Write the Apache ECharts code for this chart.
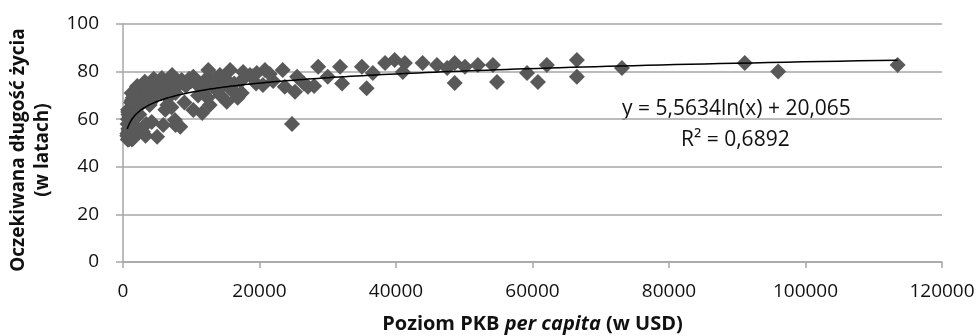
<!DOCTYPE html>
<html>
<head>
<meta charset="utf-8">
<script src="https://cdn.jsdelivr.net/npm/echarts@6/dist/echarts.min.js"></script>
<style>
html,body{margin:0;padding:0;background:#fff;}
#c{width:980px;height:336px;}
</style>
</head>
<body>
<div id="c"></div>
<script>
// GDP per capita (USD)
const gdp = [
 620,650,700,680,720,760,740,800,780,850,900,820,800,870,900,1300,980,910,950,1000,
 930,1050,1100,1020,1300,1150,880,1600,1250,1180,1450,1250,1400,1330,1350,1500,1500,1900,1550,1800,
 1700,1550,1800,2900,1700,1600,2000,2050,1800,2300,2100,2400,1900,2600,2100,2900,2900,3500,3400,2000,
 3200,3300,3300,3900,4000,3600,4100,3800,4200,3300,3700,4100,2700,3500,3800,3900,3900,1300,4800,4800,
 4500,4500,5200,5000,4900,5700,6600,5600,5800,6200,4800,4900,5600,6000,6800,6400,8000,7700,7100,5600,
 7100,7200,7700,8400,10300,9200,7300,7600,8600,9700,10300,10100,10700,10000,10900,11600,11900,13000,12400,14300,
 15700,15000,14300,14500,12500,13500,12900,17300,17600,19000,12000,17300,16300,13000,14200,12300,4200,5900,7600,11600,
 12700,15200,16800,17400,19600,20800,18600,20500,23400,23700,25500,25200,27100,28600,30000,24760,31800,32100,35000,35700,
 36600,38400,39800,41300,41000,43900,46000,47500,48600,48600,50100,52000,54200,54800,59200,60800,62100,66500,66500,73100,
 91100,96000,113500,
 22000,21500,26500,28000,19500,16000,13800,9000,11000,6500
];
// Life expectancy (years)
const lifeExp = [
 53,54,51.5,58,60,63,64,58,56,51.5,52,55,62,56,58,68,60,63,56,54,
 61,62,61,59,51.5,55,54,70,61,67,69,71,65,63,61,52,54,61,52.5,57,
 68,66,62,54.7,66,63,68,73.6,66,69,67,62,61,73,74,67,69,71,58,68,
 75.7,71,74,70,67,72,72,74,71,53,74,72,68,71,74,66,73,67,70,72,
 77,75,74,52.6,74,77.3,69,71,74,64,76,75,73,73,75,75,74,71,74,75,
 65,78.6,57.6,56.8,63.9,74,75,74,76.5,77,77.8,77,75,76,75,74,76,74,69,70,
 80.7,77,74,74,80.7,77,75,76,79.8,78,73,71,75,76,78.6,75,58.8,57.6,59.7,62.6,
 66,67.3,69,71,79.4,80.7,78.6,74.4,80.7,73.6,77.8,71.5,73.6,82,77.8,58,82,75,82,73,
 79.4,83.6,84.9,83.6,79.8,83.6,82.8,81.5,83.6,75.2,82,82.8,82.8,75.6,79.4,75.6,82.8,84.9,77.8,81.5,
 83.6,80,82.8,
 76,79,75,74,75,72,72,67,70,66
];
// Logarithmic trend line coefficients as printed on the chart
const trendA = 5.5634;
const trendB = 20.065;
const eqLabel = 'y = 5,5634ln(x) + 20,065';
const r2Label = 'R² = 0,6892';
const yTitle = 'Oczekiwana długość życia\n(w latach)';
const xTicks = [0,20000,40000,60000,80000,100000,120000];
const yTicks = [0,20,40,60,80,100];

const points = gdp.map((g,i)=>[g, lifeExp[i]]);
const xmin = Math.min(...gdp), xmax = Math.max(...gdp);
const trend = [];
for (let i=0;i<=200;i++){
  const x = Math.exp(Math.log(xmin) + (Math.log(xmax)-Math.log(xmin))*i/200);
  trend.push([x, trendA*Math.log(x)+trendB]);
}

const FONT = '"Open Sans", "Noto Sans", sans-serif';
const chart = echarts.init(document.getElementById('c'), null, {renderer:'canvas'});
chart.setOption({
  animation:false,
  backgroundColor:'#fff',
  grid:{left:123,right:38,top:24,bottom:74,containLabel:false,outerBoundsMode:'none'},
  xAxis:{
    type:'value', min:xTicks[0], max:xTicks[xTicks.length-1], interval:20000,
    axisLine:{show:true,onZero:false,lineStyle:{color:'#a6a6a6',width:1.5}},
    axisTick:{show:true,length:6,lineStyle:{color:'#a6a6a6',width:1.5}},
    splitLine:{show:false},
    axisLabel:{color:'#111',fontFamily:FONT,fontSize:19,margin:20,formatter:v=>String(v)},
    name:'{b|Poziom PKB }{i|per capita}{b| (w USD)}',
    nameLocation:'middle', nameGap:52,
    nameTextStyle:{rich:{
      b:{fontFamily:FONT,fontWeight:'bold',fontSize:20,color:'#111'},
      i:{fontFamily:FONT,fontWeight:'bold',fontStyle:'italic',fontSize:20,color:'#111'}
    }}
  },
  yAxis:{
    type:'value', min:yTicks[0], max:yTicks[yTicks.length-1], interval:20,
    axisLine:{show:true,lineStyle:{color:'#a6a6a6',width:1.5}},
    axisTick:{show:true,length:7,lineStyle:{color:'#a6a6a6',width:1.5}},
    splitLine:{show:true,lineStyle:{color:'#a6a6a6',width:1.5}},
    axisLabel:{color:'#111',fontFamily:FONT,fontSize:19,margin:24}
  },
  series:[
    {type:'scatter', data:points, symbol:'diamond', symbolSize:16,
     itemStyle:{color:'#595959',opacity:1}, z:2},
    {type:'line', data:trend, showSymbol:false, symbol:'none', smooth:false,
     lineStyle:{color:'#000',width:1.5}, z:3}
  ],
  graphic:[
    {type:'text', x:31, y:150, rotation:Math.PI/2,
     style:{text:yTitle, font:'bold 19px '+FONT, fill:'#111', align:'center', verticalAlign:'middle', lineHeight:24}},
    {type:'text', left:622, top:99, style:{text:eqLabel, font:'21px '+FONT, fill:'#111'}},
    {type:'text', left:681, top:130, style:{text:r2Label, font:'21px '+FONT, fill:'#111'}}
  ]
});
</script>
</body>
</html>
